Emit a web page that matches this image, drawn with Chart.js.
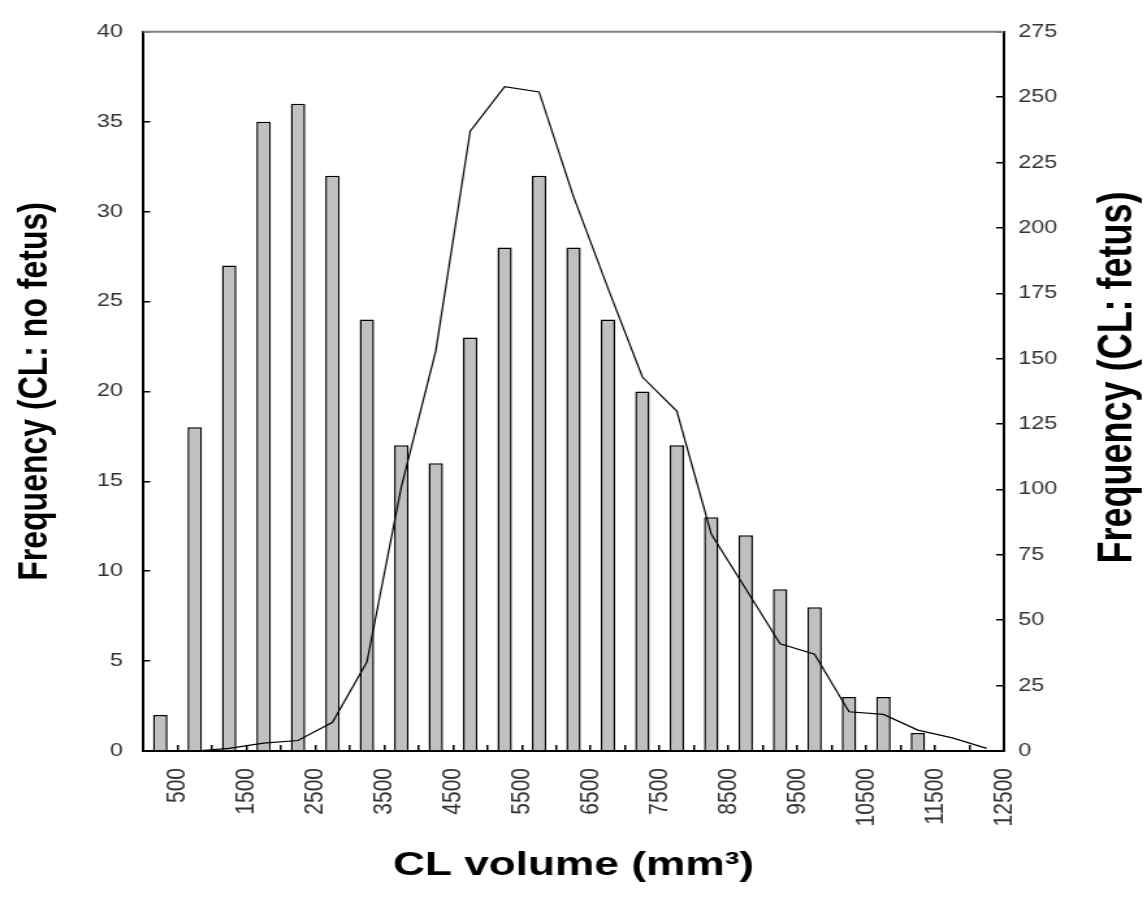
<!DOCTYPE html>
<html>
<head>
<meta charset="utf-8">
<script src="https://cdn.jsdelivr.net/npm/chart.js@4.4.1/dist/chart.umd.min.js"></script>
<style>
    html, body { margin: 0; padding: 0; background: #fff; overflow: hidden; }
    /* the source picture is stretched sideways, so draw narrow and stretch */
    #wrap {
        position: absolute; left: 0; top: 0;
        width: 882px; height: 899px;
        transform: scaleX(1.30045); transform-origin: 0 0;
    }
</style>
</head>
<body>
<div id="wrap"><canvas id="clChart"></canvas></div>
<script>
// ----------------------------------------------------
// DATA
// ----------------------------------------------------
// bins of 500 mm3, named by their upper edge
const volumeBins = [500, 1000, 1500, 2000, 2500, 3000, 3500, 4000, 4500, 5000,
    5500, 6000, 6500, 7000, 7500, 8000, 8500, 9000, 9500, 10000,
    10500, 11000, 11500, 12000, 12500];
const noFetusCounts = [2, 18, 27, 35, 36, 32, 24, 17, 16, 23,
    28, 32, 28, 24, 20, 17, 13, 12, 9, 8,
    3, 3, 1, null, null];
const fetusCounts = [null, 0, 1, 3, 4, 11, 34, 101, 153, 237,
    254, 252, 212, 177, 143, 130, 83, 62, 41, 37,
    15, 14, 8, 5, 1];
const xTickValues = [500, 1500, 2500, 3500, 4500, 5500, 6500, 7500, 8500, 9500, 10500, 11500, 12500];

const fontFamily = "'Liberation Sans', Arial, sans-serif";
const tickColor = '#333333';

// right axis title reads bottom-to-top, Chart.js would turn it the other way
const rightTitlePlugin = {
    id: 'rightTitle',
    afterDraw(chart) {
        const s = chart.scales.y2;
        const ctx = chart.ctx;
        ctx.save();
        ctx.translate(s.right - 22, (s.top + s.bottom) / 2 - 14);
        ctx.rotate(-Math.PI / 2);
        ctx.font = 'bold 36px ' + fontFamily;
        ctx.fillStyle = '#000';
        ctx.textAlign = 'center';
        ctx.textBaseline = 'middle';
        ctx.fillText('Frequency (CL: fetus)', 0, 0);
        ctx.restore();
    }
};

// grey frame line along the top of the plot
const topFramePlugin = {
    id: 'topFrame',
    afterDraw(chart) {
        const a = chart.chartArea;
        const ctx = chart.ctx;
        ctx.save();
        ctx.strokeStyle = '#808080';
        ctx.lineWidth = 2;
        ctx.beginPath();
        ctx.moveTo(a.left, a.top);
        ctx.lineTo(a.right, a.top);
        ctx.stroke();
        ctx.restore();
    }
};

new Chart(document.getElementById('clChart'), {
    data: {
        labels: volumeBins,
        datasets: [
            {
                type: 'line',
                label: 'CL: fetus',
                data: fetusCounts,
                yAxisID: 'y2',
                xAxisID: 'x',
                borderColor: '#000',
                borderWidth: 1.2,
                pointRadius: 0,
                tension: 0,
                fill: false,
                order: 0
            },
            {
                type: 'bar',
                label: 'CL: no fetus',
                data: noFetusCounts,
                yAxisID: 'y',
                xAxisID: 'x',
                backgroundColor: '#c0c0c0',
                borderColor: '#000',
                borderWidth: 1.5,
                barPercentage: 0.42,
                categoryPercentage: 1,
                order: 1
            }
        ]
    },
    options: {
        responsive: true,
        maintainAspectRatio: false,
        animation: false,
        layout: { padding: { top: 21, left: 0, right: 0, bottom: 0 } },
        plugins: { legend: { display: false }, tooltip: { enabled: false } },
        scales: {
            x: {
                type: 'category',
                position: 'bottom',
                weight: 0,
                offset: true,
                grid: { offset: true, drawOnChartArea: false, drawTicks: true, tickLength: -6, color: '#000', lineWidth: 1.5 },
                border: { display: true, color: '#000', width: 2 },
                ticks: { display: false, autoSkip: false },
                afterFit: s => { s.height = 0; }
            },
            xl: {
                type: 'linear',
                position: 'bottom',
                weight: 1,
                min: 0,
                max: 12500,
                afterBuildTicks: s => { s.ticks = xTickValues.map(v => ({ value: v })); },
                grid: { display: false, drawTicks: false },
                border: { display: false },
                ticks: {
                    autoSkip: false, minRotation: 90, maxRotation: 90, padding: 17,
                    color: tickColor, font: { family: fontFamily, size: 21 },
                    callback: v => String(v)
                },
                title: {
                    display: true, text: 'CL volume (mm³)', color: '#000',
                    font: { family: fontFamily, size: 34, weight: 'bold' },
                    padding: { top: 0, bottom: 13 }
                },
                afterFit: s => { s.height = 148; }
            },
            y: {
                position: 'left',
                min: 0,
                max: 40,
                ticks: { stepSize: 5, padding: 21, color: tickColor, font: { family: fontFamily, size: 18 } },
                grid: { drawOnChartArea: false, tickLength: -5.5, color: '#000', lineWidth: 1.5 },
                border: { color: '#000', width: 2 },
                title: {
                    display: true, text: 'Frequency (CL: no fetus)', color: '#000',
                    font: { family: fontFamily, size: 32, weight: 'bold' },
                    padding: { top: 8, bottom: 0 }
                },
                afterFit: s => { s.width = 110; }
            },
            y2: {
                position: 'right',
                min: 0,
                max: 275,
                ticks: { stepSize: 25, padding: 17, color: tickColor, font: { family: fontFamily, size: 18 } },
                grid: { drawOnChartArea: false, tickLength: -6, color: '#000', lineWidth: 1.5 },
                border: { color: '#000', width: 2 },
                afterFit: s => { s.width = 110; }
            }
        }
    },
    plugins: [rightTitlePlugin, topFramePlugin]
});
</script>
</body>
</html>
